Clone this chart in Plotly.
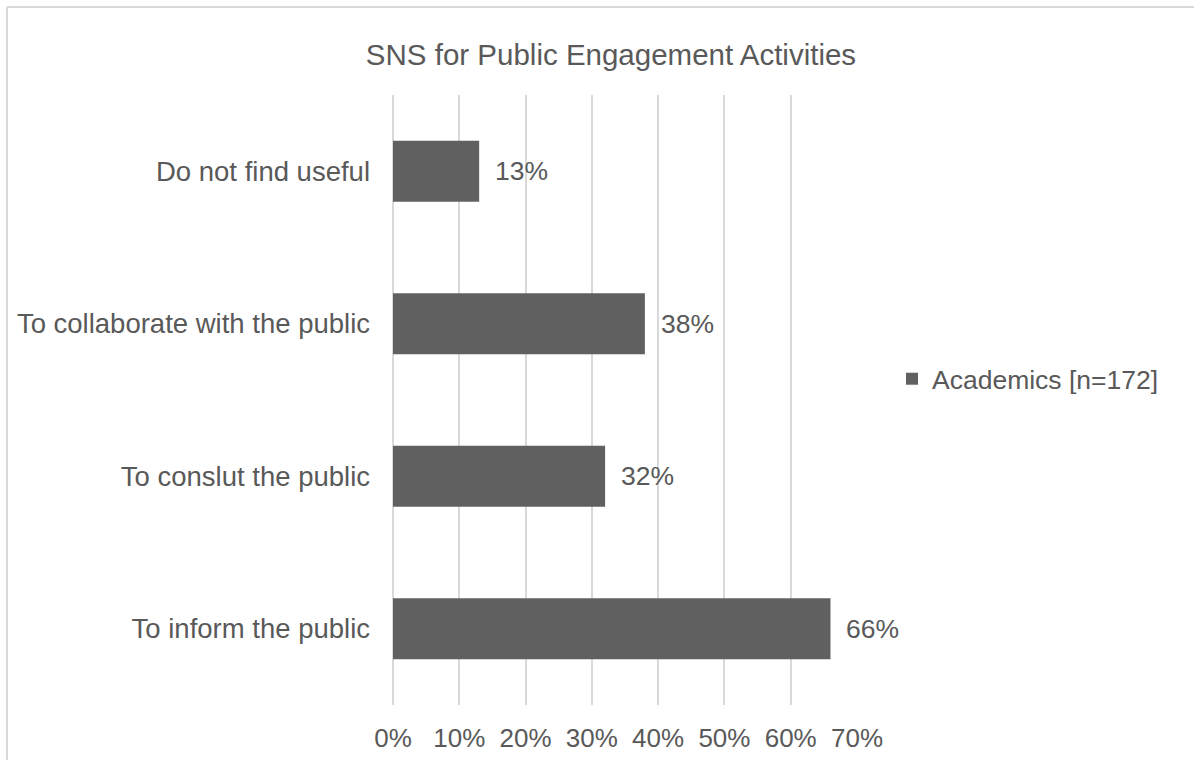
import plotly.graph_objects as go

# Survey results: how academics use SNS for public engagement
categories = [
    "Do not find useful",
    "To collaborate with the public",
    "To conslut the public",
    "To inform the public",
]
values = [13, 38, 32, 66]  # percent of respondents
series_name = "Academics [n=172]"
tick_values = [0, 10, 20, 30, 40, 50, 60, 70]
tick_labels = ["0%", "10%", "20%", "30%", "40%", "50%", "60%", "70%"]

TEXT = "#595959"
BAR = "#606060"
GRID = "#d9d9d9"
FONT = "Liberation Sans, Arial, sans-serif"

W, H = 1194, 760
L, R, T, B = 393, 337, 95, 55
pw, ph = W - L - R, H - T - B


def px_to_paper_x(px):
    return (px - L) / pw


def px_to_paper_y(py):
    return (H - B - py) / ph


fig = go.Figure()
fig.add_trace(go.Bar(
    y=categories,
    x=values,
    orientation="h",
    name=series_name,
    marker=dict(color=BAR, line=dict(width=0)),
    width=0.4,
    showlegend=True,
))

# value labels to the right of each bar
for cat, v in zip(categories, values):
    fig.add_annotation(
        x=v, y=cat, xref="x", yref="y",
        text=f"{v}%", showarrow=False,
        xanchor="left", yanchor="middle", xshift=14,
        font=dict(family=FONT, size=26.5, color=TEXT),
    )

# outer chart frame (top and left edges)
fig.add_shape(type="line", xref="paper", yref="paper",
              x0=px_to_paper_x(7), x1=px_to_paper_x(1200),
              y0=px_to_paper_y(7), y1=px_to_paper_y(7),
              line=dict(color=GRID, width=2))
fig.add_shape(type="line", xref="paper", yref="paper",
              x0=px_to_paper_x(7), x1=px_to_paper_x(7),
              y0=px_to_paper_y(7), y1=px_to_paper_y(770),
              line=dict(color=GRID, width=2))

fig.update_layout(
    width=W, height=H,
    margin=dict(l=L, r=R, t=T, b=B, autoexpand=False),
    paper_bgcolor="white",
    plot_bgcolor="white",
    font=dict(family=FONT, size=26, color=TEXT),
    title=dict(
        text="SNS for Public Engagement Activities",
        x=611 / W, xref="container", xanchor="center",
        y=1 - 55 / H, yref="container", yanchor="middle",
        font=dict(family=FONT, size=29.5, color=TEXT),
    ),
    xaxis=dict(
        range=[0, 70],
        tickvals=tick_values,
        ticktext=tick_labels,
        showgrid=True, gridcolor=GRID, gridwidth=2,
        zeroline=True, zerolinecolor=GRID, zerolinewidth=2,
        showline=False, ticks="",
        ticklabelstandoff=15,
        tickfont=dict(family=FONT, size=26, color=TEXT),
        fixedrange=True,
    ),
    yaxis=dict(
        categoryorder="array",
        categoryarray=categories,
        autorange="reversed",
        showgrid=False, showline=False, ticks="",
        ticklabelstandoff=22,
        tickfont=dict(family=FONT, size=27.5, color=TEXT),
        fixedrange=True,
    ),
    legend=dict(
        x=px_to_paper_x(892), y=px_to_paper_y(379),
        xanchor="left", yanchor="middle",
        font=dict(family=FONT, size=26.5, color=TEXT),
        bgcolor="rgba(0,0,0,0)",
        itemclick=False, itemdoubleclick=False,
    ),
    bargap=0.6,
)

fig.write_html("out.html")
